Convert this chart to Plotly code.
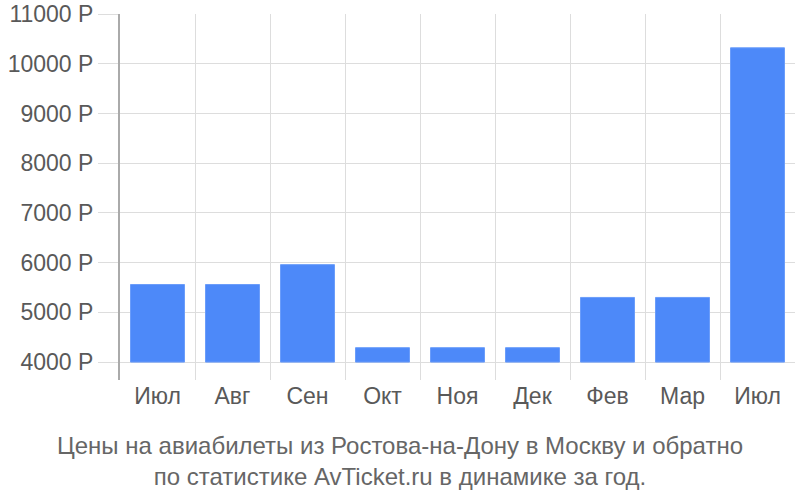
import plotly.graph_objects as go

keys = ["m1", "m2", "m3", "m4", "m5", "m6", "m7", "m8", "m9"]
months = ["Июл", "Авг", "Сен", "Окт", "Ноя", "Дек", "Фев", "Мар", "Июл"]
prices = [5560, 5560, 5960, 4290, 4290, 4290, 5300, 5300, 10320]
bar_base = 4000
ytick_vals = [4000, 5000, 6000, 7000, 8000, 9000, 10000, 11000]
ytick_text = [f"{v} Р" for v in ytick_vals]
title_lines = ["Цены на авиабилеты из Ростова-на-Дону в Москву и обратно",
               "по статистике AvTicket.ru в динамике за год."]

FONT = "Liberation Sans"

fig = go.Figure(go.Bar(
    x=keys, y=[p - bar_base for p in prices], base=bar_base,
    marker=dict(color="#4d89f9", line=dict(color="#6b9dfa", width=1)),
))

fig.update_layout(
    width=800, height=500,
    margin=dict(l=120, r=5, t=14, b=120, autoexpand=False),
    paper_bgcolor="white", plot_bgcolor="white",
    bargap=0.28,
    showlegend=False,
    font=dict(family=FONT, color="#595959", size=23),
    xaxis=dict(
        type="category",
        tickvals=keys, ticktext=months,
        tickson="boundaries",
        showgrid=True, gridcolor="#dddddd", gridwidth=1,
        ticks="", showline=False, zeroline=False,
        automargin=False,
        tickfont=dict(family=FONT, size=23, color="#595959"),
    ),
    yaxis=dict(
        range=[3640, 11000],
        tickmode="array",
        tickvals=ytick_vals, ticktext=ytick_text,
        ticklabeloverflow="allow",
        showgrid=True, gridcolor="#dddddd", gridwidth=1,
        ticks="outside", ticklen=20, tickcolor="#dddddd", tickwidth=1,
        showline=True, linecolor="#aaaaaa", linewidth=2,
        zeroline=False,
        automargin=False,
        tickfont=dict(family=FONT, size=23, color="#595959"),
    ),
    annotations=[dict(
        text="<br>".join(title_lines),
        x=(400 - 120) / 675, y=0, xref="paper", yref="paper",
        xanchor="center", yanchor="top", yshift=-50,
        showarrow=False, align="center",
        font=dict(family=FONT, size=24, color="#666666"),
    )],
)

fig.write_html("out.html",
               config={"displayModeBar": False},
               post_script="document.body.style.margin='0';document.body.style.overflow='hidden';")
